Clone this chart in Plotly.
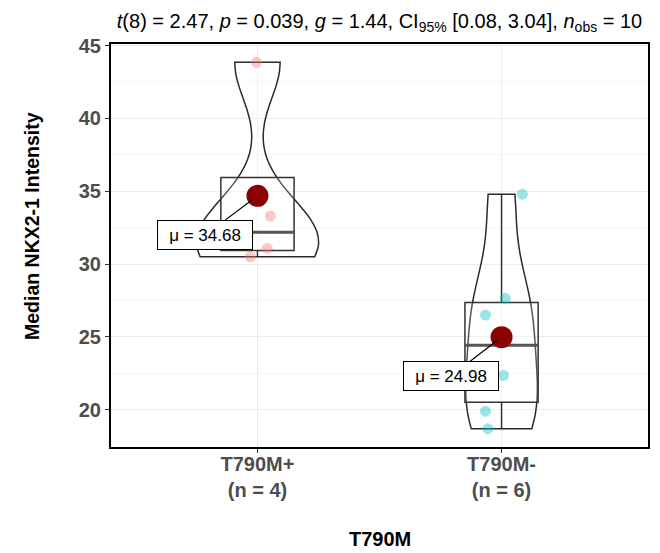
import numpy as np
import plotly.graph_objects as go

# ---- data -------------------------------------------------------------
groups = ["T790M+", "T790M-"]
tick_labels = ["T790M+<br>(n = 4)", "T790M-<br>(n = 6)"]
intensity_pos = [43.85, 33.30, 31.08, 30.50]
intensity_neg = [34.80, 27.65, 26.50, 22.35, 19.90, 18.70]
point_jitter_pos = [-0.004, 0.053, 0.040, -0.029]
point_jitter_neg = [0.085, 0.015, -0.066, 0.008, -0.066, -0.056]
subtitle = ("<i>t</i>(8) = 2.47, <i>p</i> = 0.039, <i>g</i> = 1.44, "
            "CI<sub>95%</sub> [0.08, 3.04], <i>n</i><sub>obs</sub> = 10")
y_title = "Median NKX2-1 Intensity"
x_title = "T790M"

series = [np.array(intensity_pos), np.array(intensity_neg)]
jitters = [point_jitter_pos, point_jitter_neg]
point_colors = ["rgba(248,118,109,0.4)", "rgba(0,191,196,0.4)"]
label_offsets = [(-52, 39), (-51, 39)]

FONT = "Liberation Sans, Arial, sans-serif"


def bw_nrd0(v):
    sd = np.std(v, ddof=1)
    q1, q3 = np.percentile(v, [25, 75])
    lo = min(sd, (q3 - q1) / 1.34)
    return 0.9 * lo * len(v) ** -0.2


def kde_peak(v, bw):
    grid = np.linspace(v.min(), v.max(), 512)
    dens = np.exp(-0.5 * ((grid[:, None] - v[None, :]) / bw) ** 2).sum(axis=1)
    dens /= len(v) * bw * np.sqrt(2 * np.pi)
    return dens.max()


bws = [bw_nrd0(v) for v in series]
peaks = [kde_peak(v, b) for v, b in zip(series, bws)]
violin_widths = [0.5 * p / max(peaks) for p in peaks]

fig = go.Figure()

for i, v in enumerate(series):
    xc = i + 1
    # jittered raw observations
    fig.add_trace(go.Scatter(
        x=[xc + j for j in jitters[i]], y=v, mode="markers",
        marker=dict(size=11, color=point_colors[i], line=dict(width=0)),
        showlegend=False, hoverinfo="y"))

    # box with Tukey whiskers (type-7 quartiles)
    q1, med, q3 = np.percentile(v, [25, 50, 75])
    iqr = q3 - q1
    inside = v[(v >= q1 - 1.5 * iqr) & (v <= q3 + 1.5 * iqr)]
    lf = min(inside.min(), q1)
    uf = max(inside.max(), q3)
    fig.add_trace(go.Box(
        x=[xc], q1=[q1], median=[med], q3=[q3], lowerfence=[lf], upperfence=[uf],
        width=0.3, whiskerwidth=0, boxpoints=False,
        fillcolor="rgba(255,255,255,0.2)",
        line=dict(color="#333333", width=1.5),
        showlegend=False, hoverinfo="skip"))

    # violin
    fig.add_trace(go.Violin(
        y=v, x0=xc, width=violin_widths[i], scalemode="width",
        bandwidth=bws[i], spanmode="hard", points=False,
        box_visible=False, meanline_visible=False,
        fillcolor="rgba(255,255,255,0.2)",
        line=dict(color="#2b2b2b", width=1.5),
        showlegend=False, hoverinfo="skip"))

    # thicker median bar
    fig.add_trace(go.Scatter(
        x=[xc - 0.15, xc + 0.15], y=[med, med], mode="lines",
        line=dict(color="#555555", width=3),
        showlegend=False, hoverinfo="skip"))

    # group mean
    m = v.mean()
    fig.add_trace(go.Scatter(
        x=[xc], y=[m], mode="markers",
        marker=dict(size=22, color="#8B0000", line=dict(width=0)),
        showlegend=False, hoverinfo="y"))
    ax, ay = label_offsets[i]
    fig.add_annotation(
        x=xc, y=m, xref="x", yref="y", ax=ax, ay=ay,
        text=f"μ = {m:.2f}", showarrow=True, arrowhead=0, arrowwidth=1.2,
        arrowcolor="black", standoff=6,
        font=dict(family=FONT, size=17, color="black"),
        bgcolor="white", bordercolor="black", borderwidth=1, borderpad=3,
        width=88, height=22)

all_vals = np.concatenate(series)
pad = 0.05 * (all_vals.max() - all_vals.min())
y_range = [all_vals.min() - pad, all_vals.max() + pad]
major = np.arange(20, 46, 5)
minor = np.arange(17.5, 46, 5)

fig.update_layout(
    width=660, height=553,
    margin=dict(l=111, r=12, t=44, b=106, autoexpand=False),
    paper_bgcolor="white", plot_bgcolor="white",
    font=dict(family=FONT),
    title=dict(text=subtitle, x=0.5, xref="paper", xanchor="center",
               y=1 - 21 / 553, yref="container", yanchor="middle",
               font=dict(family=FONT, size=20, color="black")),
    xaxis=dict(
        range=[0.4, 2.6], tickvals=[1, 2], ticktext=tick_labels,
        automargin=False, ticklabelstandoff=-6,
        showgrid=True, gridcolor="#EBEBEB", gridwidth=1, zeroline=False,
        ticks="outside", ticklen=4, tickcolor="#333333", tickwidth=1,
        tickfont=dict(family=FONT, size=20, color="#4D4D4D", weight="bold"),
        showline=True, linecolor="black", linewidth=2, mirror=True),
    yaxis=dict(
        range=y_range, tickvals=major, automargin=False,
        showgrid=True, gridcolor="#EBEBEB", gridwidth=1, zeroline=False,
        minor=dict(tickvals=minor, showgrid=True, gridcolor="#F5F5F5", ticks=""),
        ticks="outside", ticklen=4, tickcolor="#333333", tickwidth=1,
        tickfont=dict(family=FONT, size=20, color="#4D4D4D", weight="bold"),
        showline=True, linecolor="black", linewidth=2, mirror=True),
)

# axis titles, placed in the margins
fig.add_annotation(
    text=x_title, xref="paper", yref="paper", x=0.5, y=-(539 - 447) / 403,
    yanchor="middle", showarrow=False,
    font=dict(family=FONT, size=20, color="black", weight="bold"))
fig.add_annotation(
    text=y_title, xref="paper", yref="paper", x=-(111 - 32) / 537,
    y=(447 - 226) / 403,
    xanchor="center", yanchor="middle", textangle=-90, showarrow=False,
    font=dict(family=FONT, size=19.5, color="black", weight="bold"))

fig.write_html("out.html")
